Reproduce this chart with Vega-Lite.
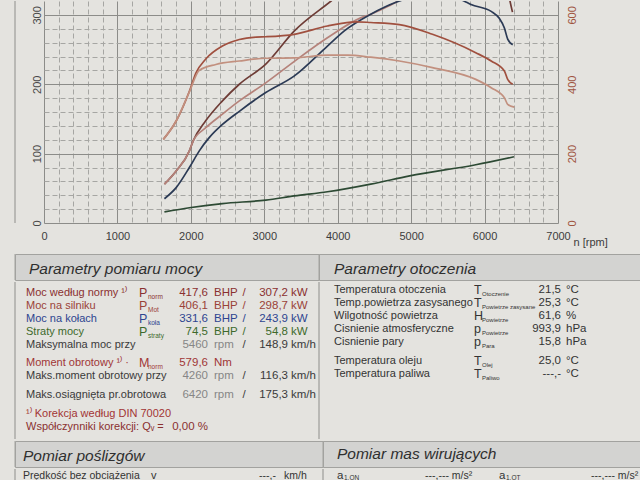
{
  "$schema": "https://vega.github.io/schema/vega-lite/v6.json",
  "background": "#e4e3df",
  "padding": {"left": 14, "top": 0, "right": 0, "bottom": 0},
  "config": {"view": {"stroke": null}, "font": "Liberation Sans", "concat": {"spacing": 0}},
  "resolve": {"scale": {"color": "independent"}},
  "datasets": {
    "power": [
      {"series": "P_norm", "rpm": 1640, "value": 56}, {"series": "P_norm", "rpm": 1800, "value": 75}, {"series": "P_norm", "rpm": 1980, "value": 104}, {"series": "P_norm", "rpm": 2030, "value": 118}, {"series": "P_norm", "rpm": 2200, "value": 147}, {"series": "P_norm", "rpm": 2430, "value": 176}, {"series": "P_norm", "rpm": 2660, "value": 200}, {"series": "P_norm", "rpm": 3020, "value": 229}, {"series": "P_norm", "rpm": 3410, "value": 277}, {"series": "P_norm", "rpm": 3910, "value": 320}, {"series": "P_norm", "rpm": 4400, "value": 362}, {"series": "P_norm", "rpm": 5000, "value": 402}, {"series": "P_norm", "rpm": 5460, "value": 417.6}, {"series": "P_norm", "rpm": 5900, "value": 404}, {"series": "P_norm", "rpm": 6150, "value": 378}, {"series": "P_norm", "rpm": 6300, "value": 345}, {"series": "P_norm", "rpm": 6350, "value": 318}, {"series": "P_norm", "rpm": 6380, "value": 304},
      {"series": "P_mot", "rpm": 1640, "value": 56}, {"series": "P_mot", "rpm": 1800, "value": 75}, {"series": "P_mot", "rpm": 1980, "value": 104}, {"series": "P_mot", "rpm": 2030, "value": 118}, {"series": "P_mot", "rpm": 2200, "value": 137}, {"series": "P_mot", "rpm": 2430, "value": 157}, {"series": "P_mot", "rpm": 2660, "value": 176}, {"series": "P_mot", "rpm": 3020, "value": 202}, {"series": "P_mot", "rpm": 3410, "value": 233}, {"series": "P_mot", "rpm": 3860, "value": 267}, {"series": "P_mot", "rpm": 4320, "value": 296}, {"series": "P_mot", "rpm": 4450, "value": 301}, {"series": "P_mot", "rpm": 4700, "value": 313}, {"series": "P_mot", "rpm": 4850, "value": 322}, {"series": "P_mot", "rpm": 5460, "value": 406.1}, {"series": "P_mot", "rpm": 5900, "value": 395}, {"series": "P_mot", "rpm": 6200, "value": 360}, {"series": "P_mot", "rpm": 6380, "value": 325},
      {"series": "P_kola", "rpm": 1640, "value": 35}, {"series": "P_kola", "rpm": 1800, "value": 51}, {"series": "P_kola", "rpm": 1980, "value": 80}, {"series": "P_kola", "rpm": 2115, "value": 104}, {"series": "P_kola", "rpm": 2250, "value": 123}, {"series": "P_kola", "rpm": 2430, "value": 142}, {"series": "P_kola", "rpm": 2660, "value": 161}, {"series": "P_kola", "rpm": 3020, "value": 188}, {"series": "P_kola", "rpm": 3410, "value": 212}, {"series": "P_kola", "rpm": 3860, "value": 255}, {"series": "P_kola", "rpm": 4090, "value": 277}, {"series": "P_kola", "rpm": 4450, "value": 301}, {"series": "P_kola", "rpm": 4840, "value": 320}, {"series": "P_kola", "rpm": 5100, "value": 328}, {"series": "P_kola", "rpm": 5460, "value": 331.6}, {"series": "P_kola", "rpm": 5720, "value": 320}, {"series": "P_kola", "rpm": 5815, "value": 315}, {"series": "P_kola", "rpm": 6090, "value": 305}, {"series": "P_kola", "rpm": 6200, "value": 295}, {"series": "P_kola", "rpm": 6270, "value": 281}, {"series": "P_kola", "rpm": 6315, "value": 265}, {"series": "P_kola", "rpm": 6383, "value": 257},
      {"series": "P_straty", "rpm": 1640, "value": 16}, {"series": "P_straty", "rpm": 1980, "value": 22}, {"series": "P_straty", "rpm": 2430, "value": 28}, {"series": "P_straty", "rpm": 3020, "value": 33}, {"series": "P_straty", "rpm": 3410, "value": 39}, {"series": "P_straty", "rpm": 3860, "value": 45}, {"series": "P_straty", "rpm": 4450, "value": 56}, {"series": "P_straty", "rpm": 4980, "value": 68}, {"series": "P_straty", "rpm": 5880, "value": 84}, {"series": "P_straty", "rpm": 6400, "value": 95.5}
    ],
    "torque": [
      {"series": "M_norm", "rpm": 1625, "nm": 241}, {"series": "M_norm", "rpm": 1800, "nm": 294}, {"series": "M_norm", "rpm": 1980, "nm": 380}, {"series": "M_norm", "rpm": 2070, "nm": 433}, {"series": "M_norm", "rpm": 2200, "nm": 472}, {"series": "M_norm", "rpm": 2430, "nm": 510}, {"series": "M_norm", "rpm": 2660, "nm": 529}, {"series": "M_norm", "rpm": 2890, "nm": 536}, {"series": "M_norm", "rpm": 3020, "nm": 537}, {"series": "M_norm", "rpm": 3410, "nm": 544}, {"series": "M_norm", "rpm": 3860, "nm": 568}, {"series": "M_norm", "rpm": 4180, "nm": 579}, {"series": "M_norm", "rpm": 4260, "nm": 580}, {"series": "M_norm", "rpm": 4450, "nm": 578}, {"series": "M_norm", "rpm": 4840, "nm": 572}, {"series": "M_norm", "rpm": 5290, "nm": 544}, {"series": "M_norm", "rpm": 5880, "nm": 491}, {"series": "M_norm", "rpm": 6090, "nm": 467}, {"series": "M_norm", "rpm": 6270, "nm": 438}, {"series": "M_norm", "rpm": 6315, "nm": 414}, {"series": "M_norm", "rpm": 6383, "nm": 400},
      {"series": "M_mot", "rpm": 1625, "nm": 241}, {"series": "M_mot", "rpm": 1800, "nm": 294}, {"series": "M_mot", "rpm": 1980, "nm": 378}, {"series": "M_mot", "rpm": 2115, "nm": 440}, {"series": "M_mot", "rpm": 2340, "nm": 457}, {"series": "M_mot", "rpm": 2660, "nm": 467}, {"series": "M_mot", "rpm": 3020, "nm": 475}, {"series": "M_mot", "rpm": 3410, "nm": 476}, {"series": "M_mot", "rpm": 3860, "nm": 484}, {"series": "M_mot", "rpm": 4135, "nm": 484}, {"series": "M_mot", "rpm": 4450, "nm": 478}, {"series": "M_mot", "rpm": 4840, "nm": 467}, {"series": "M_mot", "rpm": 5290, "nm": 448}, {"series": "M_mot", "rpm": 5880, "nm": 414}, {"series": "M_mot", "rpm": 6090, "nm": 390}, {"series": "M_mot", "rpm": 6270, "nm": 361}, {"series": "M_mot", "rpm": 6315, "nm": 342}, {"series": "M_mot", "rpm": 6405, "nm": 334}
    ],
    "left": [
      {"line": 0, "group": "norm", "label": "Moc według normy ¹⁾", "sym": "P", "sub": "norm", "v1": "417,6", "u1": "BHP", "sl": "/", "v2": "307,2", "u2": "kW"},
      {"line": 1, "group": "mot", "label": "Moc na silniku", "sym": "P", "sub": "Mot", "v1": "406,1", "u1": "BHP", "sl": "/", "v2": "298,7", "u2": "kW"},
      {"line": 2, "group": "kola", "label": "Moc na kołach", "sym": "P", "sub": "koła", "v1": "331,6", "u1": "BHP", "sl": "/", "v2": "243,9", "u2": "kW"},
      {"line": 3, "group": "straty", "label": "Straty mocy", "sym": "P", "sub": "straty", "v1": "74,5", "u1": "BHP", "sl": "/", "v2": "54,8", "u2": "kW"},
      {"line": 4, "group": "plain", "label": "Maksymalna moc przy", "sym": "", "sub": "", "v1": "5460", "u1": "rpm", "sl": "/", "v2": "148,9", "u2": "km/h"},
      {"line": 5.4, "group": "moment", "label": "Moment obrotowy ¹⁾ ·", "sym": "M", "sub": "norm", "v1": "579,6", "u1": "Nm", "sl": "", "v2": "", "u2": ""},
      {"line": 6.4, "group": "plain", "label": "Maks.moment obrotowy przy", "sym": "", "sub": "", "v1": "4260", "u1": "rpm", "sl": "/", "v2": "116,3", "u2": "km/h"},
      {"line": 7.9, "group": "plain", "label": "Maks.osiągnięta pr.obrotowa", "sym": "", "sub": "", "v1": "6420", "u1": "rpm", "sl": "/", "v2": "175,3", "u2": "km/h"},
      {"line": 9.4, "group": "note", "label": "¹⁾ Korekcja według DIN 70020", "sym": "", "sub": "", "v1": "", "u1": "", "sl": "", "v2": "", "u2": ""},
      {"line": 10.4, "group": "norm", "label": " Współczynniki korekcji: Qᵥ =", "sym": "", "sub": "", "v1": "0,00 %", "u1": "", "sl": "", "v2": "", "u2": ""}
    ],
    "right": [
      {"line": -0.25, "label": "Temperatura otoczenia", "sym": "T", "sub": "Otoczenie", "val": "21,5", "unit": "°C"},
      {"line": 0.78, "label": "Temp.powietrza zasysanego", "sym": "T", "sub": "Powietrze zasysane", "val": "25,3", "unit": "°C"},
      {"line": 1.78, "label": "Wilgotność powietrza", "sym": "H", "sub": "Powietrze", "val": "61,6", "unit": "%"},
      {"line": 2.8, "label": "Cisnienie atmosferyczne", "sym": "p", "sub": "Powietrze", "val": "993,9", "unit": "hPa"},
      {"line": 3.82, "label": "Cisnienie pary", "sym": "p", "sub": "Para", "val": "15,8", "unit": "hPa"},
      {"line": 5.28, "label": "Temperatura oleju", "sym": "T", "sub": "Olej", "val": "25,0", "unit": "°C"},
      {"line": 6.25, "label": "Temperatura paliwa", "sym": "T", "sub": "Paliwo", "val": "---,-", "unit": "°C"}
    ]
  },
  "spacing": 6,
  "vconcat": [
    {
      "bounds": "flush",
      "spacing": 0,
      "hconcat": [
        {
          "width": 29, "height": 222,
          "data": {"values": [{"k": 1}]},
          "mark": {"type": "rule", "color": "#8e8e8b", "strokeWidth": 1},
          "encoding": {"x": {"datum": 0, "type": "quantitative", "scale": {"domain": [0, 1]}, "axis": null}}
        },
        {
          "width": 514, "height": 222,
          "encoding": {
            "x": {
              "field": "rpm", "type": "quantitative",
              "scale": {"domain": [0, 7000], "nice": false, "zero": false},
              "axis": {
                "values": [0,200,400,600,800,1000,1200,1400,1600,1800,2000,2200,2400,2600,2800,3000,3200,3400,3600,3800,4000,4200,4400,4600,4800,5000,5200,5400,5600,5800,6000,6200,6400,6600,6800,7000],
                "format": "d",
                "labelExpr": "datum.value % 1000 === 0 ? datum.label : ''",
                "grid": true,
                "gridColor": {"condition": {"test": "datum.value % 1000 === 0", "value": "#8c8c89"}, "value": "#a6a6a3"},
                "gridDash": {"condition": {"test": "datum.value % 1000 === 0", "value": []}, "value": [5, 3]},
                "gridWidth": 1,
                "ticks": false, "domain": false,
                "labelFontSize": 11, "labelColor": "#3c3c3c", "labelPadding": 7,
                "labelOverlap": false, "labelFlush": false, "labelBound": false,
                "title": "n [rpm]", "titleFontWeight": "normal", "titleFontSize": 11, "titleColor": "#3c3c3c",
                "titleX": 529, "titleY": 19, "titleAlign": "left", "titleBaseline": "middle"
              }
            },
            "color": {
              "field": "series", "type": "nominal",
              "scale": {"domain": ["P_norm", "P_mot", "P_kola", "P_straty", "M_norm", "M_mot"], "range": ["#6e3c36", "#b5827a", "#2b3a55", "#2d4a34", "#a0503f", "#c2907f"]},
              "legend": null
            }
          },
          "layer": [
            {
              "data": {"name": "power"},
              "mark": {"type": "line", "strokeWidth": 1.7, "interpolate": "monotone", "clip": true},
              "encoding": {
                "y": {
                  "field": "value", "type": "quantitative",
                  "scale": {"domain": [0, 320], "nice": false},
                  "axis": {
                    "orient": "left",
                    "values": [0,20,40,60,80,100,120,140,160,180,200,220,240,260,280,300],
                    "labelExpr": "datum.value % 100 === 0 ? datum.label : ''",
                    "grid": true,
                    "gridColor": {"condition": {"test": "datum.value % 100 === 0", "value": "#8c8c89"}, "value": "#a6a6a3"},
                    "gridDash": {"condition": {"test": "datum.value % 100 === 0", "value": []}, "value": [5, 3]},
                    "gridWidth": 1,
                    "ticks": false, "domain": false,
                    "labelAngle": 270, "labelPadding": 2, "labelFontSize": 11, "labelColor": "#4a4a4a",
                    "labelOverlap": false, "labelFlush": false, "labelBound": false,
                    "title": null
                  }
                }
              }
            },
            {
              "data": {"name": "torque"},
              "mark": {"type": "line", "strokeWidth": 1.7, "interpolate": "monotone", "clip": true},
              "encoding": {
                "y": {
                  "field": "nm", "type": "quantitative",
                  "scale": {"domain": [0, 640], "nice": false},
                  "axis": {
                    "orient": "right", "values": [0, 200, 400, 600],
                    "grid": false, "ticks": false, "domain": false,
                    "labelAngle": 270, "labelPadding": 8, "labelFontSize": 11, "labelColor": "#a0553f",
                    "labelOverlap": false, "labelFlush": false, "labelBound": false,
                    "title": null
                  }
                }
              }
            }
          ],
          "resolve": {"scale": {"y": "independent"}}
        }
      ]
    },
    {
      "spacing": 0,
      "vconcat": [
        {
          "bounds": "flush", "spacing": 0,
          "hconcat": [
            {
              "width": 304, "height": 26, "view": {"fill": "#d3d3d1", "stroke": "#a2a29f"},
              "encoding": {"x": {"datum": 0, "type": "quantitative", "scale": {"domain": [0, 1]}, "axis": null}},
              "layer": [
                {"data": {"values": [{"k": 1}]}, "mark": {"type": "rule", "color": "#a2a29f", "strokeWidth": 1}},
                {"data": {"values": [{"t": "Parametry pomiaru mocy"}]}, "mark": {"type": "text", "align": "left", "baseline": "middle", "dx": 14, "dy": 2, "fontSize": 15.5, "fontStyle": "italic", "color": "#2f2f2f"}, "encoding": {"text": {"field": "t", "type": "nominal"}}}
              ]
            },
            {
              "width": 322, "height": 26, "view": {"fill": "#d3d3d1", "stroke": "#a2a29f"},
              "encoding": {"x": {"datum": 0, "type": "quantitative", "scale": {"domain": [0, 1]}, "axis": null}},
              "layer": [
                {"data": {"values": [{"k": 1}]}, "mark": {"type": "rule", "color": "#a2a29f", "strokeWidth": 1}},
                {"data": {"values": [{"t": "Parametry otoczenia"}]}, "mark": {"type": "text", "align": "left", "baseline": "middle", "dx": 15, "dy": 2, "fontSize": 15.5, "fontStyle": "italic", "color": "#2f2f2f"}, "encoding": {"text": {"field": "t", "type": "nominal"}}}
              ]
            }
          ]
        },
        {
          "bounds": "flush", "spacing": 0,
          "hconcat": [
            {
              "width": 124, "height": 157,
              "encoding": {"x": {"datum": 0, "type": "quantitative", "scale": {"domain": [0, 1]}, "axis": null}},
              "layer": [
                {"data": {"values": [{"k": 1}]}, "mark": {"type": "rule", "color": "#8e8e8b", "strokeWidth": 1}},
                {
                  "data": {"name": "left"},
                  "mark": {"type": "text", "align": "left", "baseline": "middle", "dx": 11, "fontSize": 11},
                  "encoding": {
                    "y": {"field": "line", "type": "quantitative", "scale": {"domain": [-0.85, 11.32], "reverse": true, "nice": false, "zero": false}, "axis": null},
                    "text": {"field": "label", "type": "nominal"},
                    "color": {"field": "group", "type": "nominal", "scale": {"domain": ["norm", "mot", "kola", "straty", "plain", "moment", "note"], "range": ["#8a3030", "#9a4238", "#2e4590", "#3d6a2c", "#3a3a3a", "#a03636", "#a23434"]}, "legend": null}
                  }
                }
              ]
            },
            {
              "width": 69, "height": 157,
              "data": {"name": "left"},
              "encoding": {
                "y": {"field": "line", "type": "quantitative", "scale": {"domain": [-0.85, 11.32], "reverse": true, "nice": false, "zero": false}, "axis": null},
                "color": {"condition": {"test": "datum.group === 'plain'", "value": "#868686"}, "field": "group", "type": "nominal", "scale": {"domain": ["norm", "mot", "kola", "straty", "plain", "moment", "note"], "range": ["#8a3030", "#9a4238", "#2e4590", "#3d6a2c", "#3a3a3a", "#a03636", "#a23434"]}, "legend": null}
              },
              "layer": [
                {"mark": {"type": "text", "align": "left", "baseline": "middle", "fontSize": 12.5}, "encoding": {"x": {"datum": 0, "type": "quantitative", "scale": {"domain": [0, 1]}, "axis": null}, "text": {"field": "sym", "type": "nominal"}}},
                {"mark": {"type": "text", "align": "left", "baseline": "middle", "fontSize": 6.5, "dx": 9, "dy": 4}, "encoding": {"x": {"datum": 0, "type": "quantitative", "scale": {"domain": [0, 1]}, "axis": null}, "text": {"field": "sub", "type": "nominal"}}},
                {"mark": {"type": "text", "align": "right", "baseline": "middle", "fontSize": 11.5}, "encoding": {"x": {"datum": 1, "type": "quantitative", "scale": {"domain": [0, 1]}, "axis": null}, "text": {"field": "v1", "type": "nominal"}}}
              ]
            },
            {
              "width": 36, "height": 157,
              "data": {"name": "left"},
              "encoding": {
                "y": {"field": "line", "type": "quantitative", "scale": {"domain": [-0.85, 11.32], "reverse": true, "nice": false, "zero": false}, "axis": null},
                "x": {"datum": 0, "type": "quantitative", "scale": {"domain": [0, 1]}, "axis": null}
              },
              "layer": [
                {"mark": {"type": "text", "align": "left", "baseline": "middle", "dx": 6, "fontSize": 11.5}, "encoding": {"text": {"field": "u1", "type": "nominal"}, "color": {"condition": {"test": "datum.group === 'plain'", "value": "#868686"}, "field": "group", "type": "nominal", "scale": {"domain": ["norm", "mot", "kola", "straty", "plain", "moment", "note"], "range": ["#8a3030", "#9a4238", "#2e4590", "#3d6a2c", "#3a3a3a", "#a03636", "#a23434"]}, "legend": null}}},
                {"mark": {"type": "text", "align": "center", "baseline": "middle", "fontSize": 11.5}, "encoding": {"x": {"datum": 1, "type": "quantitative", "scale": {"domain": [0, 1]}, "axis": null}, "text": {"field": "sl", "type": "nominal"}, "color": {"field": "group", "type": "nominal", "scale": {"domain": ["norm", "mot", "kola", "straty", "plain", "moment", "note"], "range": ["#8a3030", "#9a4238", "#2e4590", "#3d6a2c", "#3a3a3a", "#a03636", "#a23434"]}, "legend": null}}}
              ]
            },
            {
              "width": 44, "height": 157,
              "data": {"name": "left"},
              "mark": {"type": "text", "align": "right", "baseline": "middle", "fontSize": 11.5},
              "encoding": {
                "y": {"field": "line", "type": "quantitative", "scale": {"domain": [-0.85, 11.32], "reverse": true, "nice": false, "zero": false}, "axis": null},
                "x": {"datum": 1, "type": "quantitative", "scale": {"domain": [0, 1]}, "axis": null},
                "text": {"field": "v2", "type": "nominal"},
                "color": {"field": "group", "type": "nominal", "scale": {"domain": ["norm", "mot", "kola", "straty", "plain", "moment", "note"], "range": ["#8a3030", "#9a4238", "#2e4590", "#3d6a2c", "#3a3a3a", "#a03636", "#a23434"]}, "legend": null}
              }
            },
            {
              "width": 31, "height": 157,
              "data": {"name": "left"},
              "mark": {"type": "text", "align": "left", "baseline": "middle", "dx": 3, "fontSize": 11.5},
              "encoding": {
                "y": {"field": "line", "type": "quantitative", "scale": {"domain": [-0.85, 11.32], "reverse": true, "nice": false, "zero": false}, "axis": null},
                "x": {"datum": 0, "type": "quantitative", "scale": {"domain": [0, 1]}, "axis": null},
                "text": {"field": "u2", "type": "nominal"},
                "color": {"field": "group", "type": "nominal", "scale": {"domain": ["norm", "mot", "kola", "straty", "plain", "moment", "note"], "range": ["#8a3030", "#9a4238", "#2e4590", "#3d6a2c", "#3a3a3a", "#a03636", "#a23434"]}, "legend": null}
              }
            },
            {
              "width": 155, "height": 157,
              "encoding": {"x": {"datum": 0, "type": "quantitative", "scale": {"domain": [0, 1]}, "axis": null}},
              "layer": [
                {"data": {"values": [{"k": 1}]}, "mark": {"type": "rule", "color": "#8e8e8b", "strokeWidth": 1}},
                {
                  "data": {"name": "right"},
                  "mark": {"type": "text", "align": "left", "baseline": "middle", "dx": 15, "fontSize": 11, "color": "#333333"},
                  "encoding": {
                    "y": {"field": "line", "type": "quantitative", "scale": {"domain": [-0.85, 11.32], "reverse": true, "nice": false, "zero": false}, "axis": null},
                    "text": {"field": "label", "type": "nominal"}
                  }
                }
              ]
            },
            {
              "width": 87, "height": 157,
              "data": {"name": "right"},
              "encoding": {
                "y": {"field": "line", "type": "quantitative", "scale": {"domain": [-0.85, 11.32], "reverse": true, "nice": false, "zero": false}, "axis": null}
              },
              "layer": [
                {"mark": {"type": "text", "align": "left", "baseline": "middle", "fontSize": 12.5, "color": "#333333"}, "encoding": {"x": {"datum": 0, "type": "quantitative", "scale": {"domain": [0, 1]}, "axis": null}, "text": {"field": "sym", "type": "nominal"}}},
                {"mark": {"type": "text", "align": "left", "baseline": "middle", "fontSize": 6, "dx": 8, "dy": 4, "color": "#333333"}, "encoding": {"x": {"datum": 0, "type": "quantitative", "scale": {"domain": [0, 1]}, "axis": null}, "text": {"field": "sub", "type": "nominal"}}},
                {"mark": {"type": "text", "align": "right", "baseline": "middle", "fontSize": 11.5, "color": "#333333"}, "encoding": {"x": {"datum": 1, "type": "quantitative", "scale": {"domain": [0, 1]}, "axis": null}, "text": {"field": "val", "type": "nominal"}}}
              ]
            },
            {
              "width": 80, "height": 157,
              "data": {"name": "right"},
              "mark": {"type": "text", "align": "left", "baseline": "middle", "dx": 5, "fontSize": 11.5, "color": "#333333"},
              "encoding": {
                "y": {"field": "line", "type": "quantitative", "scale": {"domain": [-0.85, 11.32], "reverse": true, "nice": false, "zero": false}, "axis": null},
                "x": {"datum": 0, "type": "quantitative", "scale": {"domain": [0, 1]}, "axis": null},
                "text": {"field": "unit", "type": "nominal"}
              }
            }
          ]
        },
        {
          "bounds": "flush", "spacing": 0,
          "hconcat": [
            {
              "width": 308, "height": 26, "view": {"fill": "#d3d3d1", "stroke": "#a2a29f"},
              "encoding": {"x": {"datum": 0, "type": "quantitative", "scale": {"domain": [0, 1]}, "axis": null}},
              "layer": [
                {"data": {"values": [{"k": 1}]}, "mark": {"type": "rule", "color": "#a2a29f", "strokeWidth": 1}},
                {"data": {"values": [{"t": "Pomiar poślizgów"}]}, "mark": {"type": "text", "align": "left", "baseline": "middle", "dx": 8, "dy": 2, "fontSize": 15.5, "fontStyle": "italic", "color": "#2f2f2f"}, "encoding": {"text": {"field": "t", "type": "nominal"}}}
              ]
            },
            {
              "width": 318, "height": 26, "view": {"fill": "#d3d3d1", "stroke": "#a2a29f"},
              "encoding": {"x": {"datum": 0, "type": "quantitative", "scale": {"domain": [0, 1]}, "axis": null}},
              "layer": [
                {"data": {"values": [{"k": 1}]}, "mark": {"type": "rule", "color": "#a2a29f", "strokeWidth": 1}},
                {"data": {"values": [{"t": "Pomiar mas wirujących"}]}, "mark": {"type": "text", "align": "left", "baseline": "middle", "dx": 14, "dy": 0, "fontSize": 15.5, "fontStyle": "italic", "color": "#2f2f2f"}, "encoding": {"text": {"field": "t", "type": "nominal"}}}
              ]
            }
          ]
        },
        {
          "bounds": "flush", "spacing": 0,
          "hconcat": [
            {
              "width": 131, "height": 14,
              "encoding": {"x": {"datum": 0, "type": "quantitative", "scale": {"domain": [0, 1]}, "axis": null}},
              "layer": [
                {"data": {"values": [{"k": 1}]}, "mark": {"type": "rule", "color": "#8e8e8b", "strokeWidth": 1}},
                {"data": {"values": [{"t": "Prędkość bez obciążenia"}]}, "mark": {"type": "text", "align": "left", "baseline": "middle", "dx": 8, "fontSize": 10.5, "color": "#333333"}, "encoding": {"text": {"field": "t", "type": "nominal"}}}
              ]
            },
            {
              "width": 130, "height": 14,
              "data": {"values": [{"s": "v", "v": "---,-"}]},
              "layer": [
                {"mark": {"type": "text", "align": "left", "baseline": "middle", "dx": 5, "fontSize": 11, "color": "#333333"}, "encoding": {"x": {"datum": 0, "type": "quantitative", "scale": {"domain": [0, 1]}, "axis": null}, "text": {"field": "s", "type": "nominal"}}},
                {"mark": {"type": "text", "align": "right", "baseline": "middle", "fontSize": 10.5, "color": "#333333"}, "encoding": {"x": {"datum": 1, "type": "quantitative", "scale": {"domain": [0, 1]}, "axis": null}, "text": {"field": "v", "type": "nominal"}}}
              ]
            },
            {
              "width": 47, "height": 14,
              "data": {"values": [{"t": "km/h"}]},
              "mark": {"type": "text", "align": "left", "baseline": "middle", "dx": 8, "fontSize": 10.5, "color": "#333333"},
              "encoding": {"x": {"datum": 0, "type": "quantitative", "scale": {"domain": [0, 1]}, "axis": null}, "text": {"field": "t", "type": "nominal"}}
            },
            {
              "width": 98, "height": 14,
              "encoding": {"x": {"datum": 0, "type": "quantitative", "scale": {"domain": [0, 1]}, "axis": null}},
              "layer": [
                {"data": {"values": [{"k": 1}]}, "mark": {"type": "rule", "color": "#8e8e8b", "strokeWidth": 1}},
                {"data": {"values": [{"t": "a"}]}, "mark": {"type": "text", "align": "left", "baseline": "middle", "dx": 14, "fontSize": 11.5, "color": "#333333"}, "encoding": {"text": {"field": "t", "type": "nominal"}}},
                {"data": {"values": [{"t": "1,ON"}]}, "mark": {"type": "text", "align": "left", "baseline": "middle", "dx": 21, "dy": 1.5, "fontSize": 6.5, "color": "#333333"}, "encoding": {"text": {"field": "t", "type": "nominal"}}}
              ]
            },
            {
              "width": 76, "height": 14,
              "data": {"values": [{"t": "---,---  m/s²"}]},
              "mark": {"type": "text", "align": "left", "baseline": "middle", "dx": 4, "fontSize": 10.5, "color": "#333333"},
              "encoding": {"x": {"datum": 0, "type": "quantitative", "scale": {"domain": [0, 1]}, "axis": null}, "text": {"field": "t", "type": "nominal"}}
            },
            {
              "width": 90, "height": 14,
              "encoding": {"x": {"datum": 0, "type": "quantitative", "scale": {"domain": [0, 1]}, "axis": null}},
              "layer": [
                {"data": {"values": [{"t": "a"}]}, "mark": {"type": "text", "align": "left", "baseline": "middle", "dx": 2, "fontSize": 11.5, "color": "#333333"}, "encoding": {"text": {"field": "t", "type": "nominal"}}},
                {"data": {"values": [{"t": "1,OT"}]}, "mark": {"type": "text", "align": "left", "baseline": "middle", "dx": 9, "dy": 1.5, "fontSize": 6.5, "color": "#333333"}, "encoding": {"text": {"field": "t", "type": "nominal"}}}
              ]
            },
            {
              "width": 54, "height": 14,
              "data": {"values": [{"t": "---,---  m/s²"}]},
              "mark": {"type": "text", "align": "left", "baseline": "middle", "dx": 4, "fontSize": 10.5, "color": "#333333"},
              "encoding": {"x": {"datum": 0, "type": "quantitative", "scale": {"domain": [0, 1]}, "axis": null}, "text": {"field": "t", "type": "nominal"}}
            }
          ]
        }
      ]
    }
  ]
}
